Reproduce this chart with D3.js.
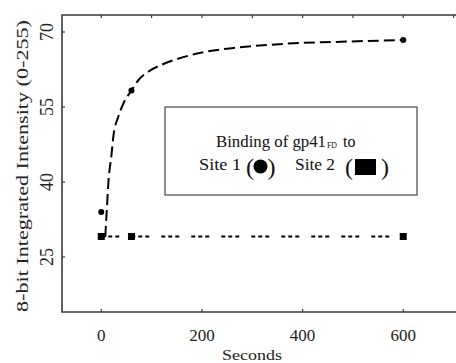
<!DOCTYPE html>
<html>
<head>
<meta charset="utf-8">
<script src="https://cdn.jsdelivr.net/npm/d3@7"></script>
<style>
  body { margin: 0; background: #fff; }
  svg { display: block; font-family: "Liberation Serif", "Times New Roman", serif; }
</style>
</head>
<body>
<svg id="chart" width="456" height="363"></svg>
<script>
// values
const site1Times = [0, 60, 600]
const site1Values = [34.0, 58.3, 68.4]
const site2Times = [0, 60, 600]
const site2Values = [29.1, 29.1, 29.1]
// dashed fit curve through site 1, sampled by eye along the drawn line
const fitTimes = [8, 11, 14.5, 20, 24, 34, 44, 60, 74, 94, 121, 154, 200, 263, 329, 395, 462, 528, 600]
const fitValues = [29.0, 34.4, 40.4, 45.1, 49.1, 53.1, 55.7, 58.3, 60.4, 62.1, 63.5, 64.7, 65.9, 66.8, 67.4, 67.8, 68.0, 68.2, 68.4]
const xTicks = [0, 200, 400, 600]
const xTopTicks = [0, 100, 200, 300, 400, 500, 600, 700]
const yTicks = [25, 40, 55, 70]

const svg = d3.select('#chart')

const x = d3.scaleLinear().domain([-78, 712]).range([62, 459.6])
const y = d3.scaleLinear().domain([14, 73.4]).range([312, 15])

const frame = '#3a3a3a'

// frame: top, left, bottom (right side runs off the picture)
let axes = svg.append('g')
axes.append('path')
  .attr('d', `M${x.range()[1]},${y.range()[1]}H${x.range()[0]}V${y.range()[0]}H${x.range()[1]}`)
  .attr('fill', 'none')
  .attr('stroke', frame)
  .attr('stroke-width', 1.6)

// inward ticks
axes.selectAll('.tb').data(xTicks).join('line')
  .attr('x1', d => x(d)).attr('x2', d => x(d))
  .attr('y1', y.range()[0]).attr('y2', y.range()[0] - 3)
  .attr('stroke', frame).attr('stroke-width', 1.2)
axes.selectAll('.tt').data(xTopTicks).join('line')
  .attr('x1', d => x(d)).attr('x2', d => x(d))
  .attr('y1', y.range()[1]).attr('y2', y.range()[1] + 3)
  .attr('stroke', frame).attr('stroke-width', 1.2)
axes.selectAll('.tl').data(yTicks).join('line')
  .attr('x1', x.range()[0]).attr('x2', x.range()[0] + 3)
  .attr('y1', d => y(d)).attr('y2', d => y(d))
  .attr('stroke', frame).attr('stroke-width', 1.2)

// tick labels
axes.selectAll('.xl').data(xTicks).join('text')
  .attr('x', d => x(d))
  .attr('y', 341)
  .attr('text-anchor', 'middle')
  .attr('font-size', 17)
  .attr('fill', '#222')
  .text(d => d)
axes.selectAll('.yl').data(yTicks).join('text')
  .attr('transform', d => `translate(53,${y(d)}) rotate(-90)`)
  .attr('text-anchor', 'middle')
  .attr('font-size', 18)
  .attr('fill', '#222')
  .text(d => d)

// axis titles
svg.append('text')
  .attr('x', 222).attr('y', 360)
  .attr('font-size', 15.5)
  .attr('textLength', 60)
  .attr('lengthAdjust', 'spacingAndGlyphs')
  .attr('fill', '#222')
  .text('Seconds')
svg.append('text')
  .attr('transform', 'translate(28,166) rotate(-90)')
  .attr('text-anchor', 'middle')
  .attr('font-size', 16.5)
  .attr('textLength', 292)
  .attr('lengthAdjust', 'spacingAndGlyphs')
  .attr('fill', '#222')
  .text('8-bit Integrated Intensity (0-255)')

// plot series
let chart = svg.append('g')
let line = d3.line()
  .x(d => x(d[0]))
  .y(d => y(d[1]))

let fit = d3.zip(fitTimes, fitValues)
chart.append('path')
  .attr('d', line.curve(d3.curveMonotoneX)(fit))
  .attr('fill', 'none')
  .attr('stroke', '#000')
  .attr('stroke-width', 2)
  .attr('stroke-dasharray', '11,5')

let s2 = d3.zip(site2Times, site2Values)
chart.append('path')
  .attr('d', line.curve(d3.curveLinear)(s2))
  .attr('fill', 'none')
  .attr('stroke', '#000')
  .attr('stroke-width', 1.8)
  .attr('stroke-dasharray', '4,3,4,3,4,12')

chart.selectAll('.sq').data(s2).join('rect')
  .attr('x', d => x(d[0]) - 3.5)
  .attr('y', d => y(d[1]) - 3.5)
  .attr('width', 7)
  .attr('height', 7)
  .attr('fill', '#000')

chart.selectAll('.dot').data(d3.zip(site1Times, site1Values)).join('circle')
  .attr('cx', d => x(d[0]))
  .attr('cy', d => y(d[1]))
  .attr('r', 3)
  .attr('fill', '#000')

// legend box
let lg = svg.append('g')
lg.append('rect')
  .attr('x', 165).attr('y', 107)
  .attr('width', 252).attr('height', 88)
  .attr('fill', '#fff')
  .attr('stroke', '#555')
  .attr('stroke-width', 1.3)

let lt = (tx, ty, size, txt, len) => {
  let t = lg.append('text')
    .attr('x', tx).attr('y', ty)
    .attr('font-size', size)
    .attr('fill', '#111')
    .text(txt)
  if (len) t.attr('textLength', len).attr('lengthAdjust', 'spacingAndGlyphs')
  return t
}
lt(216, 146.5, 16, 'Binding of gp41', 110)
lt(327, 148, 8, 'FD', 10)
lt(343, 146.5, 16, 'to')
lt(199, 170, 16, 'Site 1', 42)
lt(246, 174.5, 24, '(')
lt(267.5, 174.5, 24, ')')
lg.append('circle')
  .attr('cx', 260.5).attr('cy', 166.5)
  .attr('r', 7)
  .attr('fill', '#000')
lt(295, 170, 16, 'Site 2', 40)
lt(345, 174.5, 24, '(')
lt(381, 174.5, 24, ')')
lg.append('rect')
  .attr('x', 355).attr('y', 159)
  .attr('width', 21).attr('height', 16)
  .attr('fill', '#000')
</script>
</body>
</html>
